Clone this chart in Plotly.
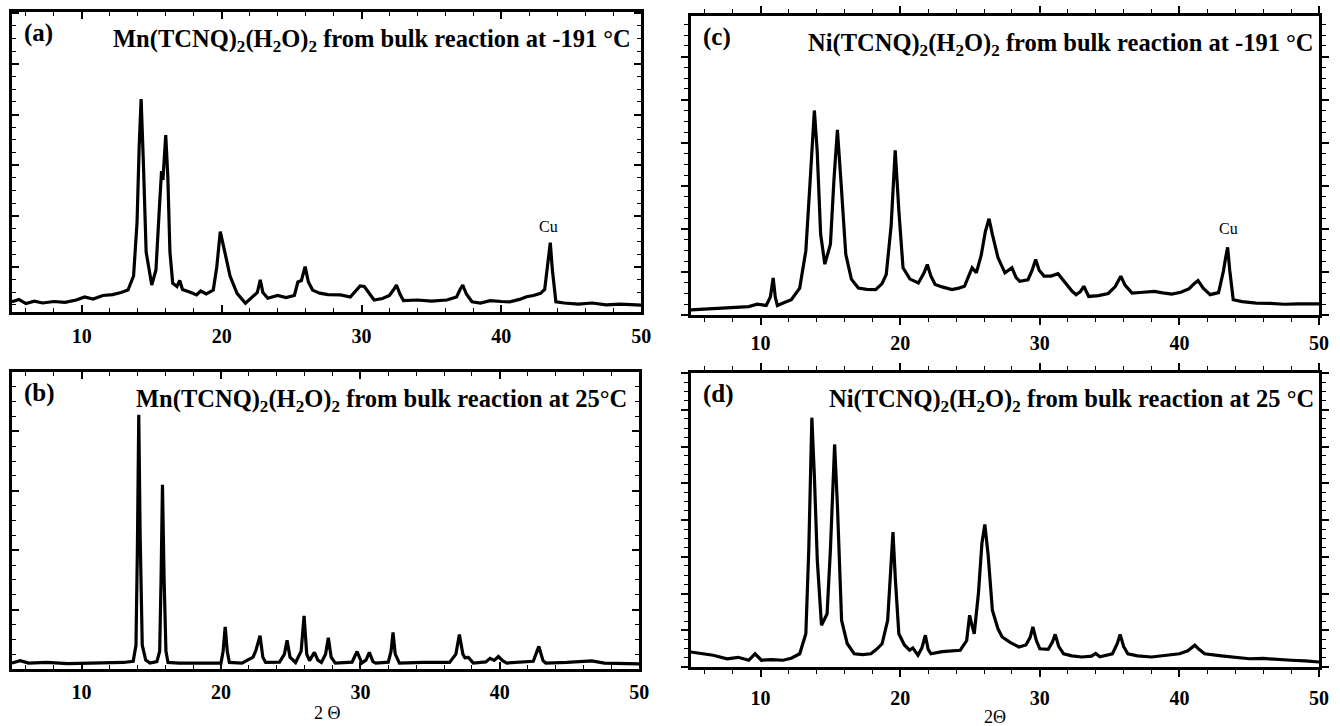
import plotly.graph_objects as go

# ---- data (2-theta, relative intensity) ----
a_x = [5.0,5.5,6.0,6.6,7.2,8.0,8.8,9.6,10.2,10.8,11.5,12.2,12.8,13.3,13.7,13.95,14.1,14.24,14.4,14.6,15.0,15.3,15.55,15.7,15.8,16.0,16.15,16.3,16.5,16.8,17.0,17.2,17.8,18.2,18.5,18.9,19.4,19.65,19.9,20.1,20.3,20.6,21.1,21.7,22.2,22.55,22.76,22.95,23.3,24.0,24.6,25.2,25.45,25.7,25.97,26.2,26.5,27.0,27.6,28.5,29.2,29.7,29.9,30.2,30.5,30.9,31.5,32.0,32.3,32.5,32.75,33.0,34.0,35.0,36.1,36.8,37.05,37.24,37.5,37.9,38.5,39.2,40.0,40.6,41.3,41.8,42.3,42.8,43.1,43.3,43.5,43.65,43.9,44.5,45.5,46.5,47.5,48.5,50.0]
a_y = [3.4,4.2,2.8,3.6,3.0,3.5,3.2,4.0,5.0,4.3,5.5,5.8,6.5,7.3,12,30,55,71,50,20,9,14,35,47,44,59,45,20,9.6,8.5,10.5,7.5,6.5,5.7,7.0,6.0,7.3,15,26.8,22,18.4,12,6.2,2.9,5.0,6.5,10.7,6.5,4.6,5.5,4.8,5.5,10,10.5,15.1,10,7.3,6.3,5.8,5.7,5.0,7.5,8.7,8.5,6.5,4.0,4.5,5.5,7.5,9.0,6.0,3.8,4.0,3.6,4.0,5.0,7.5,9.0,6.0,3.4,3.0,3.8,3.5,3.4,4.2,5.1,5.5,6.2,7.5,16,23.1,14,3.4,3.0,2.6,3.0,2.4,2.6,2.3]

b_x = [5.0,5.6,6.2,7.5,9.0,10.5,12.0,13.0,13.7,13.9,14.0,14.1,14.2,14.35,14.6,14.9,15.4,15.6,15.7,15.8,15.92,16.05,16.2,17.0,18.5,20.0,20.15,20.3,20.45,20.6,21.5,22.3,22.5,22.8,23.0,23.2,24.2,24.55,24.74,24.95,25.35,25.75,25.96,26.15,26.35,26.7,26.95,27.2,27.5,27.7,27.9,28.2,29.4,29.76,30.1,30.4,30.64,30.9,31.1,32.0,32.2,32.34,32.5,32.8,34.5,36.4,36.85,37.1,37.35,37.5,37.75,38.1,39.0,39.3,39.6,39.9,40.2,40.5,42.4,42.8,43.1,43.3,44.8,46.6,47.5,49.8,50.0]
b_y = [2.0,2.8,2.0,2.2,1.8,2.0,2.3,2.2,2.6,8,40,85.6,45,8,3,2.0,2.5,6,30,62,30,6,2.2,2.0,2.0,2.0,6,14.2,6,2.2,2.0,4.0,6.2,11.2,4,2.2,2.3,5,9.7,4,2.2,6,17.9,5,2.8,5.6,3,2.2,5,10.5,4,2.0,2.3,5.9,2.0,3,5.6,2.5,2.0,2.3,6,12.3,5,2.0,2.2,2.2,5,11.6,5,3.8,3.9,2.0,2.4,3.6,2.9,4.2,2.8,2.0,2.6,7.6,2.8,2.0,2.2,2.7,2.0,1.7,1.7]

c_x = [5.0,6.0,7.0,8.0,9.15,9.76,10.4,10.7,10.9,11.05,11.2,11.7,12.2,12.8,13.24,13.55,13.85,14.05,14.3,14.6,15.0,15.25,15.5,15.75,16.1,16.5,17.0,17.6,18.24,18.7,19.0,19.35,19.64,19.9,20.2,20.7,21.3,21.7,21.94,22.2,22.5,23.0,23.7,24.2,24.6,24.9,25.15,25.45,25.8,26.1,26.36,26.6,27.0,27.5,28.0,28.3,28.55,29.15,29.45,29.7,29.95,30.3,30.8,31.3,31.6,31.9,32.3,32.6,32.9,33.15,33.35,33.5,34.2,34.9,35.4,35.8,36.1,36.6,37.4,38.2,38.8,39.45,40.1,40.7,41.05,41.33,41.7,42.2,42.8,43.15,43.3,43.45,43.6,43.85,44.5,45.5,46.5,47.5,48.5,49.6,50.0]
c_y = [1.7,2.0,2.3,2.5,2.8,3.6,3.2,6,12.4,6,3.2,4.2,5.1,9,21.5,45,68.4,55,27,17,23.7,45,61.9,45,20.3,12,9,8.6,8.5,10.5,13.6,30,55.1,35,15.8,12,10.7,14,16.9,13,10.2,9.4,8.5,9,9.6,13,15.8,14.1,20,28,32.2,27,19.2,14.1,15.8,12.5,11.3,11.8,15,18.6,15,13,13,13.8,12,10.2,8,6.8,7.8,9.6,7.5,6.2,6.5,7.2,9.5,13,10,7.3,7.6,7.9,7.4,7.0,7.6,8.8,10.5,11.5,9,6.8,7.5,14.7,19,22.6,15,5.1,4.5,4.0,3.9,3.6,3.7,3.6,3.7]

d_x = [5.0,5.8,6.6,7.6,8.4,9.15,9.6,10.06,10.8,11.6,12.2,12.8,13.24,13.45,13.67,13.85,14.06,14.36,14.76,15.0,15.3,15.5,15.8,16.2,16.7,17.3,17.9,18.3,18.7,19.1,19.3,19.48,19.65,19.9,20.3,20.67,20.9,21.27,21.55,21.8,22.0,22.2,23.0,23.6,24.3,24.76,24.97,25.15,25.3,25.6,25.85,26.06,26.3,26.6,27.0,27.3,27.9,28.5,29.0,29.3,29.5,29.75,30.0,30.6,30.9,31.1,31.35,31.7,32.3,33.0,33.7,34.0,34.3,35.2,35.55,35.75,36.0,36.3,37.0,38.0,39.0,40.0,40.6,41.1,41.4,41.8,43.0,44.0,45.0,46.0,47.0,48.0,49.0,50.0]
d_y = [5.1,4.6,4.0,2.8,3.3,2.3,4.5,2.3,2.5,2.3,3.0,4.5,11.3,40,84.8,65,36.3,14.2,18.1,40,75.7,55,15.9,8,4.5,4.2,4.5,6,7.9,15.9,30,45.9,30,11.3,7.5,5.7,6.5,4.0,6.5,10.8,6,4.5,5.2,5.5,5.7,9,17.6,14,11.3,25,42,48.5,38,19.3,13,10.2,8.3,6.8,7.5,10,13.6,9,6.2,6.0,8.5,11.1,7,4.5,3.8,3.4,3.7,4.6,3.5,4.5,8,11.1,7,4.5,3.8,3.4,4.0,4.5,5.5,7.4,6,4.5,3.8,3.3,2.8,2.9,2.5,2.3,2.1,1.7]

x_ticks = [10, 20, 30, 40, 50]
x_tick_text = ["<b>10</b>", "<b>20</b>", "<b>30</b>", "<b>40</b>", "<b>50</b>"]

titles = {
    "a": "<b>Mn(TCNQ)<sub>2</sub>(H<sub>2</sub>O)<sub>2</sub> from bulk reaction at -191 °C</b>",
    "b": "<b>Mn(TCNQ)<sub>2</sub>(H<sub>2</sub>O)<sub>2</sub> from bulk reaction at 25°C</b>",
    "c": "<b>Ni(TCNQ)<sub>2</sub>(H<sub>2</sub>O)<sub>2</sub> from bulk reaction at -191 °C</b>",
    "d": "<b>Ni(TCNQ)<sub>2</sub>(H<sub>2</sub>O)<sub>2</sub> from bulk reaction at 25 °C</b>",
}

W, H = 1340, 726
SERIF = "Liberation Serif"

def px_x(l, r):
    return [l / W, r / W]

def px_y(t, b):
    return [1 - b / H, 1 - t / H]

panels = [
    # key, x, y, xdomain, ydomain, tick dir, ytick dtick, ytick0, label standoff, axis lw, title end
    ("a", a_x, a_y, px_x(12, 646), px_y(12, 312), "inside", 16.9, -1.8, 4, 3, 49.4),
    ("b", b_x, b_y, px_x(12, 644), px_y(372, 669), "inside", 20.0, 0.0, 3, 3, 49.3),
    ("c", c_x, c_y, px_x(696, 1329), px_y(16, 315), "outside", 14.4, 0.0, 1, 2.5, 49.8),
    ("d", d_x, d_y, px_x(696, 1329), px_y(373, 667), "outside", 12.5, 0.0, 4, 2.5, 49.8),
]

fig = go.Figure()
layout = dict(
    width=W, height=H, margin=dict(l=0, r=0, t=0, b=0),
    paper_bgcolor="white", plot_bgcolor="white", showlegend=False,
)
annotations = []
for i, (key, xs, ys, xd, yd, tdir, ydt, yt0, stand, lw, tend) in enumerate(panels):
    n = "" if i == 0 else str(i + 1)
    fig.add_trace(go.Scatter(x=xs, y=ys, mode="lines",
                             line=dict(color="black", width=3.2),
                             xaxis="x" + n, yaxis="y" + n, hoverinfo="skip"))
    layout["xaxis" + n] = dict(
        domain=xd, anchor="y" + n, range=[5, 50],
        showline=True, linecolor="black", linewidth=lw, mirror="ticks",
        showgrid=False, zeroline=False,
        ticks=tdir, ticklen=7, tickwidth=1.5, tickcolor="black",
        tickmode="array", tickvals=x_ticks, ticktext=x_tick_text,
        tickfont=dict(family=SERIF, size=20, color="black"),
        ticklabelstandoff=stand,
        minor=dict(dtick=2, tick0=0, ticks=tdir, ticklen=4, tickwidth=1, tickcolor="black"),
    )
    layout["yaxis" + n] = dict(
        domain=yd, anchor="x" + n, range=[0, 100],
        showline=True, linecolor="black", linewidth=lw, mirror="ticks",
        showgrid=False, zeroline=False, showticklabels=False,
        ticks=tdir, ticklen=7, tickwidth=1.5, tickcolor="black",
        tick0=yt0, dtick=ydt,
        minor=dict(dtick=ydt / 4, tick0=yt0, ticks=tdir, ticklen=4, tickwidth=1, tickcolor="black"),
    )
    xr = "x" + n
    yr = "y" + n
    annotations.append(dict(xref=xr, yref=yr, x=5.7, y=93, text="<b>(" + key + ")</b>",
                            showarrow=False, xanchor="left", yanchor="middle",
                            font=dict(family=SERIF, size=25, color="black")))
    annotations.append(dict(xref=xr, yref=yr, x=tend, y=90.5, text=titles[key],
                            showarrow=False, xanchor="right", yanchor="middle",
                            font=dict(family=SERIF, size=24.5, color="black")))

annotations.append(dict(xref="x", yref="y", x=43.4, y=28.5, text="Cu", showarrow=False,
                        xanchor="center", yanchor="middle",
                        font=dict(family=SERIF, size=16, color="black")))
annotations.append(dict(xref="x3", yref="y3", x=43.5, y=29, text="Cu", showarrow=False,
                        xanchor="center", yanchor="middle",
                        font=dict(family=SERIF, size=16, color="black")))
annotations.append(dict(xref="paper", yref="paper", x=330 / W, y=1 - 713 / H, text="2 Θ",
                        showarrow=False, xanchor="center", yanchor="middle",
                        font=dict(family=SERIF, size=18, color="black")))
annotations.append(dict(xref="paper", yref="paper", x=1002 / W, y=1 - 717 / H, text="2Θ",
                        showarrow=False, xanchor="center", yanchor="middle",
                        font=dict(family=SERIF, size=18, color="black")))
layout["annotations"] = annotations
fig.update_layout(**layout)
fig.write_html("out.html")
